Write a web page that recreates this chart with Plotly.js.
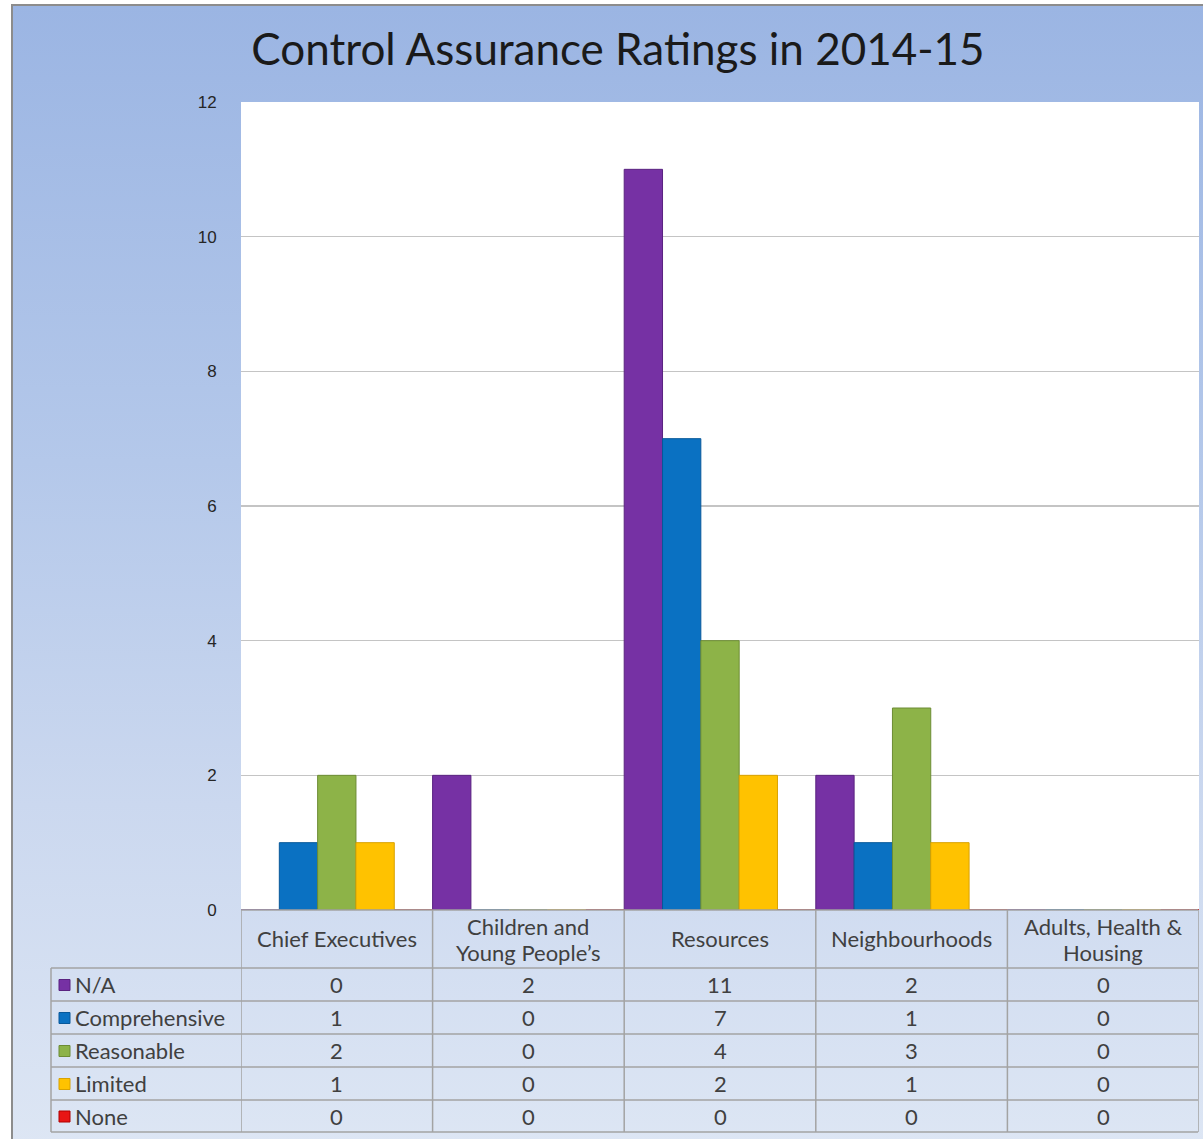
<!DOCTYPE html>
<html>
<head>
<meta charset="utf-8">
<script src="https://cdn.plot.ly/plotly-3.0.1.min.js"></script>
<style>
  html, body { margin: 0; padding: 0; background: #ffffff; overflow: hidden; }
  #frame {
    position: absolute; left: 11px; top: 4px; width: 1200px; height: 1140px;
    border-left: 2px solid #8c8c8c; border-top: 2px solid #8c8c8c;
    background: linear-gradient(to bottom, #9bb5e3 0%, #b4c8ea 40%, #cbd8ef 70%, #dde6f4 100%);
  }
  #chart { position: absolute; left: 0; top: 0; width: 1203px; height: 1139px; }
</style>
</head>
<body>
<div id="frame"></div>
<div id="chart"></div>
<script>
// ---- data ----
const categories = ["Chief Executives", "Children and Young People\u2019s", "Resources", "Neighbourhoods", "Adults, Health & Housing"];
const categoryLabels = [["Chief Executives"], ["Children and", "Young People\u2019s"], ["Resources"], ["Neighbourhoods"], ["Adults, Health &", "Housing"]];
const seriesNames = ["N/A", "Comprehensive", "Reasonable", "Limited", "None"];
const naValues = [0, 2, 11, 2, 0];
const comprehensiveValues = [1, 0, 7, 1, 0];
const reasonableValues = [2, 0, 4, 3, 0];
const limitedValues = [1, 0, 2, 1, 0];
const noneValues = [0, 0, 0, 0, 0];
const yTicks = [0, 2, 4, 6, 8, 10, 12];

// ---- styles ----
const seriesValues = [naValues, comprehensiveValues, reasonableValues, limitedValues, noneValues];
const colors = ["#7631a4", "#0a71c2", "#8db348", "#ffc200", "#e81515"];
const edgeColors = ["#5a2380", "#08589a", "#6d8c34", "#d9a200", "#b00000"];

const W = 1203, H = 1139;
const mL = 241, mR = 4, mT = 102, mB = 229;
const plotW = W - mL - mR, plotH = H - mT - mB;
const px = x => (x - mL) / plotW;           // pixel x -> paper x
const py = y => (H - mB - y) / plotH;        // pixel y -> paper y

const traces = seriesNames.map((name, i) => ({
  type: "bar",
  name: name,
  x: categories,
  y: seriesValues[i],
  marker: { color: colors[i], line: { color: edgeColors[i], width: 1 } },
  hoverinfo: "x+y+name",
  showlegend: false
}));

const lineColor = "#a3a3a3";
const shapes = [];
const annotations = [];

// table geometry (pixels)
const headerTop = 910, headerBottom = 968;
const rowEdges = [968, 1001, 1034, 1067, 1100, 1132];
const tableLeft = 51, tableRight = 1198;

// horizontal lines
shapes.push({ type: "line", xref: "paper", yref: "paper", x0: px(mL), x1: px(tableRight), y0: py(headerTop), y1: py(headerTop), line: { color: lineColor, width: 1.5 } });
rowEdges.forEach(r => {
  shapes.push({ type: "line", xref: "paper", yref: "paper", x0: px(tableLeft), x1: px(tableRight), y0: py(r), y1: py(r), line: { color: lineColor, width: 1.5 } });
});
// vertical lines: category boundaries via the x axis scale
for (let k = 0; k <= categories.length; k++) {
  shapes.push({ type: "line", xref: "x", yref: "paper", x0: k - 0.5, x1: k - 0.5, y0: py(headerTop), y1: py(rowEdges[rowEdges.length - 1]), line: { color: lineColor, width: 1.5 } });
}
shapes.push({ type: "line", xref: "paper", yref: "paper", x0: px(tableLeft), x1: px(tableLeft), y0: py(rowEdges[0]), y1: py(rowEdges[rowEdges.length - 1]), line: { color: lineColor, width: 1.5 } });

const tableFont = { family: "Lato, 'Open Sans', sans-serif", size: 22, color: "#404040" };

// header labels (one annotation per line for tighter line spacing)
const headerMid = (headerTop + headerBottom) / 2;
const lineStep = 26;
categoryLabels.forEach((lines, k) => {
  lines.forEach((ln, j) => {
    const yc = headerMid + (j - (lines.length - 1) / 2) * lineStep;
    annotations.push({ xref: "x", yref: "paper", x: k, y: py(yc), text: ln, showarrow: false, font: tableFont, xanchor: "center", yanchor: "middle" });
  });
});

// rows
seriesNames.forEach((name, i) => {
  const yc = (rowEdges[i] + rowEdges[i + 1]) / 2;
  // legend key
  shapes.push({ type: "rect", xref: "paper", yref: "paper", x0: px(59), x1: px(70), y0: py(yc - 5), y1: py(yc + 6), fillcolor: colors[i], line: { color: edgeColors[i], width: 1 } });
  annotations.push({ xref: "paper", yref: "paper", x: px(73), y: py(yc), text: name, showarrow: false, font: tableFont, xanchor: "left", yanchor: "middle" });
  seriesValues[i].forEach((v, k) => {
    annotations.push({ xref: "x", yref: "paper", x: k, y: py(yc), text: String(v), showarrow: false, font: tableFont, xanchor: "center", yanchor: "middle" });
  });
});

const layout = {
  width: W, height: H,
  margin: { l: mL, r: mR, t: mT, b: mB, pad: 0 },
  paper_bgcolor: "rgba(0,0,0,0)",
  plot_bgcolor: "#ffffff",
  barmode: "group",
  bargap: 0,
  bargroupgap: 0,
  title: {
    text: "Control Assurance Ratings in 2014-15",
    font: { family: "Lato, 'Open Sans', sans-serif", size: 44, color: "#1a1a1a" },
    x: 618 / W, xanchor: "center", y: 1 - 50 / H, yanchor: "middle"
  },
  xaxis: {
    type: "category",
    range: [-0.5, categories.length - 0.5],
    showticklabels: false,
    showgrid: false,
    zeroline: false,
    showline: false,
    fixedrange: true
  },
  yaxis: {
    range: [0, 12],
    tickvals: yTicks,
    ticktext: yTicks.map(String),
    showgrid: true,
    gridcolor: "#c4c4c4",
    gridwidth: 1.2,
    zeroline: false,
    showline: false,
    ticks: "outside",
    ticklen: 20,
    tickcolor: "rgba(0,0,0,0)",
    tickfont: { family: "'Liberation Sans', Arial, sans-serif", size: 17, color: "#262626" },
    fixedrange: true
  },
  shapes: shapes,
  annotations: annotations,
  showlegend: false
};

Plotly.newPlot("chart", traces, layout, { displayModeBar: false, staticPlot: true });
</script>
</body>
</html>
